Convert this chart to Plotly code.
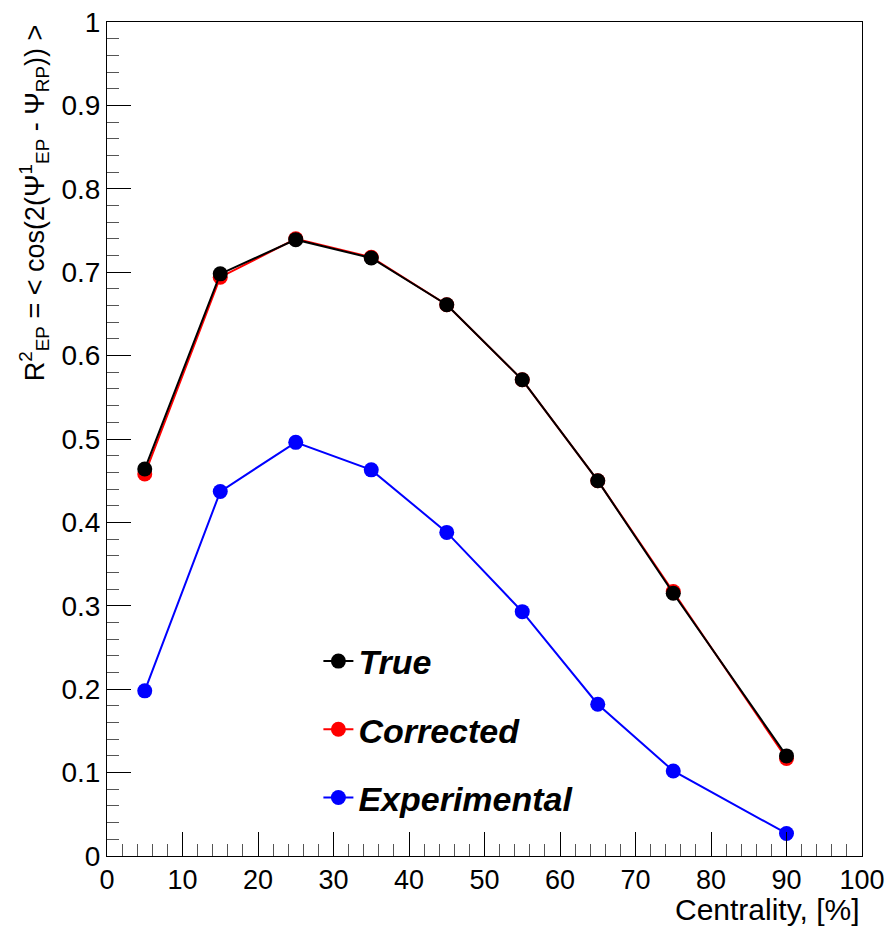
import plotly.graph_objects as go

centrality = [5, 15, 25, 35, 45, 55, 65, 75, 90]
true_vals = [0.464, 0.698, 0.739, 0.717, 0.661, 0.571, 0.450, 0.315, 0.120]
corrected_vals = [0.458, 0.694, 0.740, 0.718, 0.661, 0.571, 0.450, 0.317, 0.117]
experimental_vals = [0.198, 0.437, 0.496, 0.463, 0.388, 0.293, 0.182, 0.102, 0.027]

series = [
    ("Experimental", experimental_vals, "#0000ff", 3),
    ("Corrected", corrected_vals, "#ff0000", 2),
    ("True", true_vals, "#000000", 1),
]

FONT = "Liberation Sans, Arial, Helvetica, sans-serif"

fig = go.Figure()
for name, vals, color, rank in series:
    fig.add_trace(go.Scatter(
        x=centrality, y=vals, name=name, mode="lines+markers",
        line=dict(color=color, width=2),
        marker=dict(color=color, size=15, symbol="circle"),
        legendrank=rank, legendgroup=name,
    ))

fig.update_layout(
    width=888, height=927,
    margin=dict(l=107, r=26, t=22, b=71, autoexpand=False),
    paper_bgcolor="white", plot_bgcolor="white",
    font=dict(family=FONT, color="black"),
    showlegend=True,
    legend=dict(
        x=0.28, y=0.268, xanchor="left", yanchor="top",
        bgcolor="rgba(0,0,0,0)",
        font=dict(size=34, family=FONT, weight="bold", style="italic", color="black"),
        tracegroupgap=21, itemsizing="trace",
    ),
    xaxis=dict(
        range=[0, 100], dtick=10, tick0=0, automargin=False,
        showline=True, linecolor="black", linewidth=1, mirror=True,
        ticks="inside", ticklen=24, tickwidth=1, tickcolor="black",
        minor=dict(dtick=2, ticks="inside", ticklen=12, tickwidth=1, tickcolor="#555"),
        showgrid=False, zeroline=False,
        tickfont=dict(size=27, family=FONT),
        ticklabelstandoff=0,
    ),
    yaxis=dict(
        range=[0, 1], dtick=0.1, tick0=0, automargin=False,
        showline=True, linecolor="black", linewidth=1, mirror=True,
        ticks="inside", ticklen=24, tickwidth=1, tickcolor="black",
        minor=dict(dtick=0.02, ticks="inside", ticklen=12, tickwidth=1, tickcolor="#555"),
        showgrid=False, zeroline=False,
        tickfont=dict(size=28, family=FONT),
    ),
    annotations=[
        dict(
            text="Centrality, [%]", xref="paper", yref="paper",
            x=1.0, y=-0.086, xanchor="right", yanchor="bottom", showarrow=False,
            font=dict(size=30, family=FONT),
        ),
        dict(
            text="R<sup>2</sup><sub>EP</sub> = &lt; cos(2(Ψ<sup>1</sup><sub>EP</sub> - Ψ<sub>RP</sub>)) &gt;",
            xref="paper", yref="paper", x=-0.097, y=1.0, xanchor="center", yanchor="top",
            textangle=-90, showarrow=False,
            font=dict(size=27, family=FONT),
        ),
    ],
)

fig.write_html("out.html")
